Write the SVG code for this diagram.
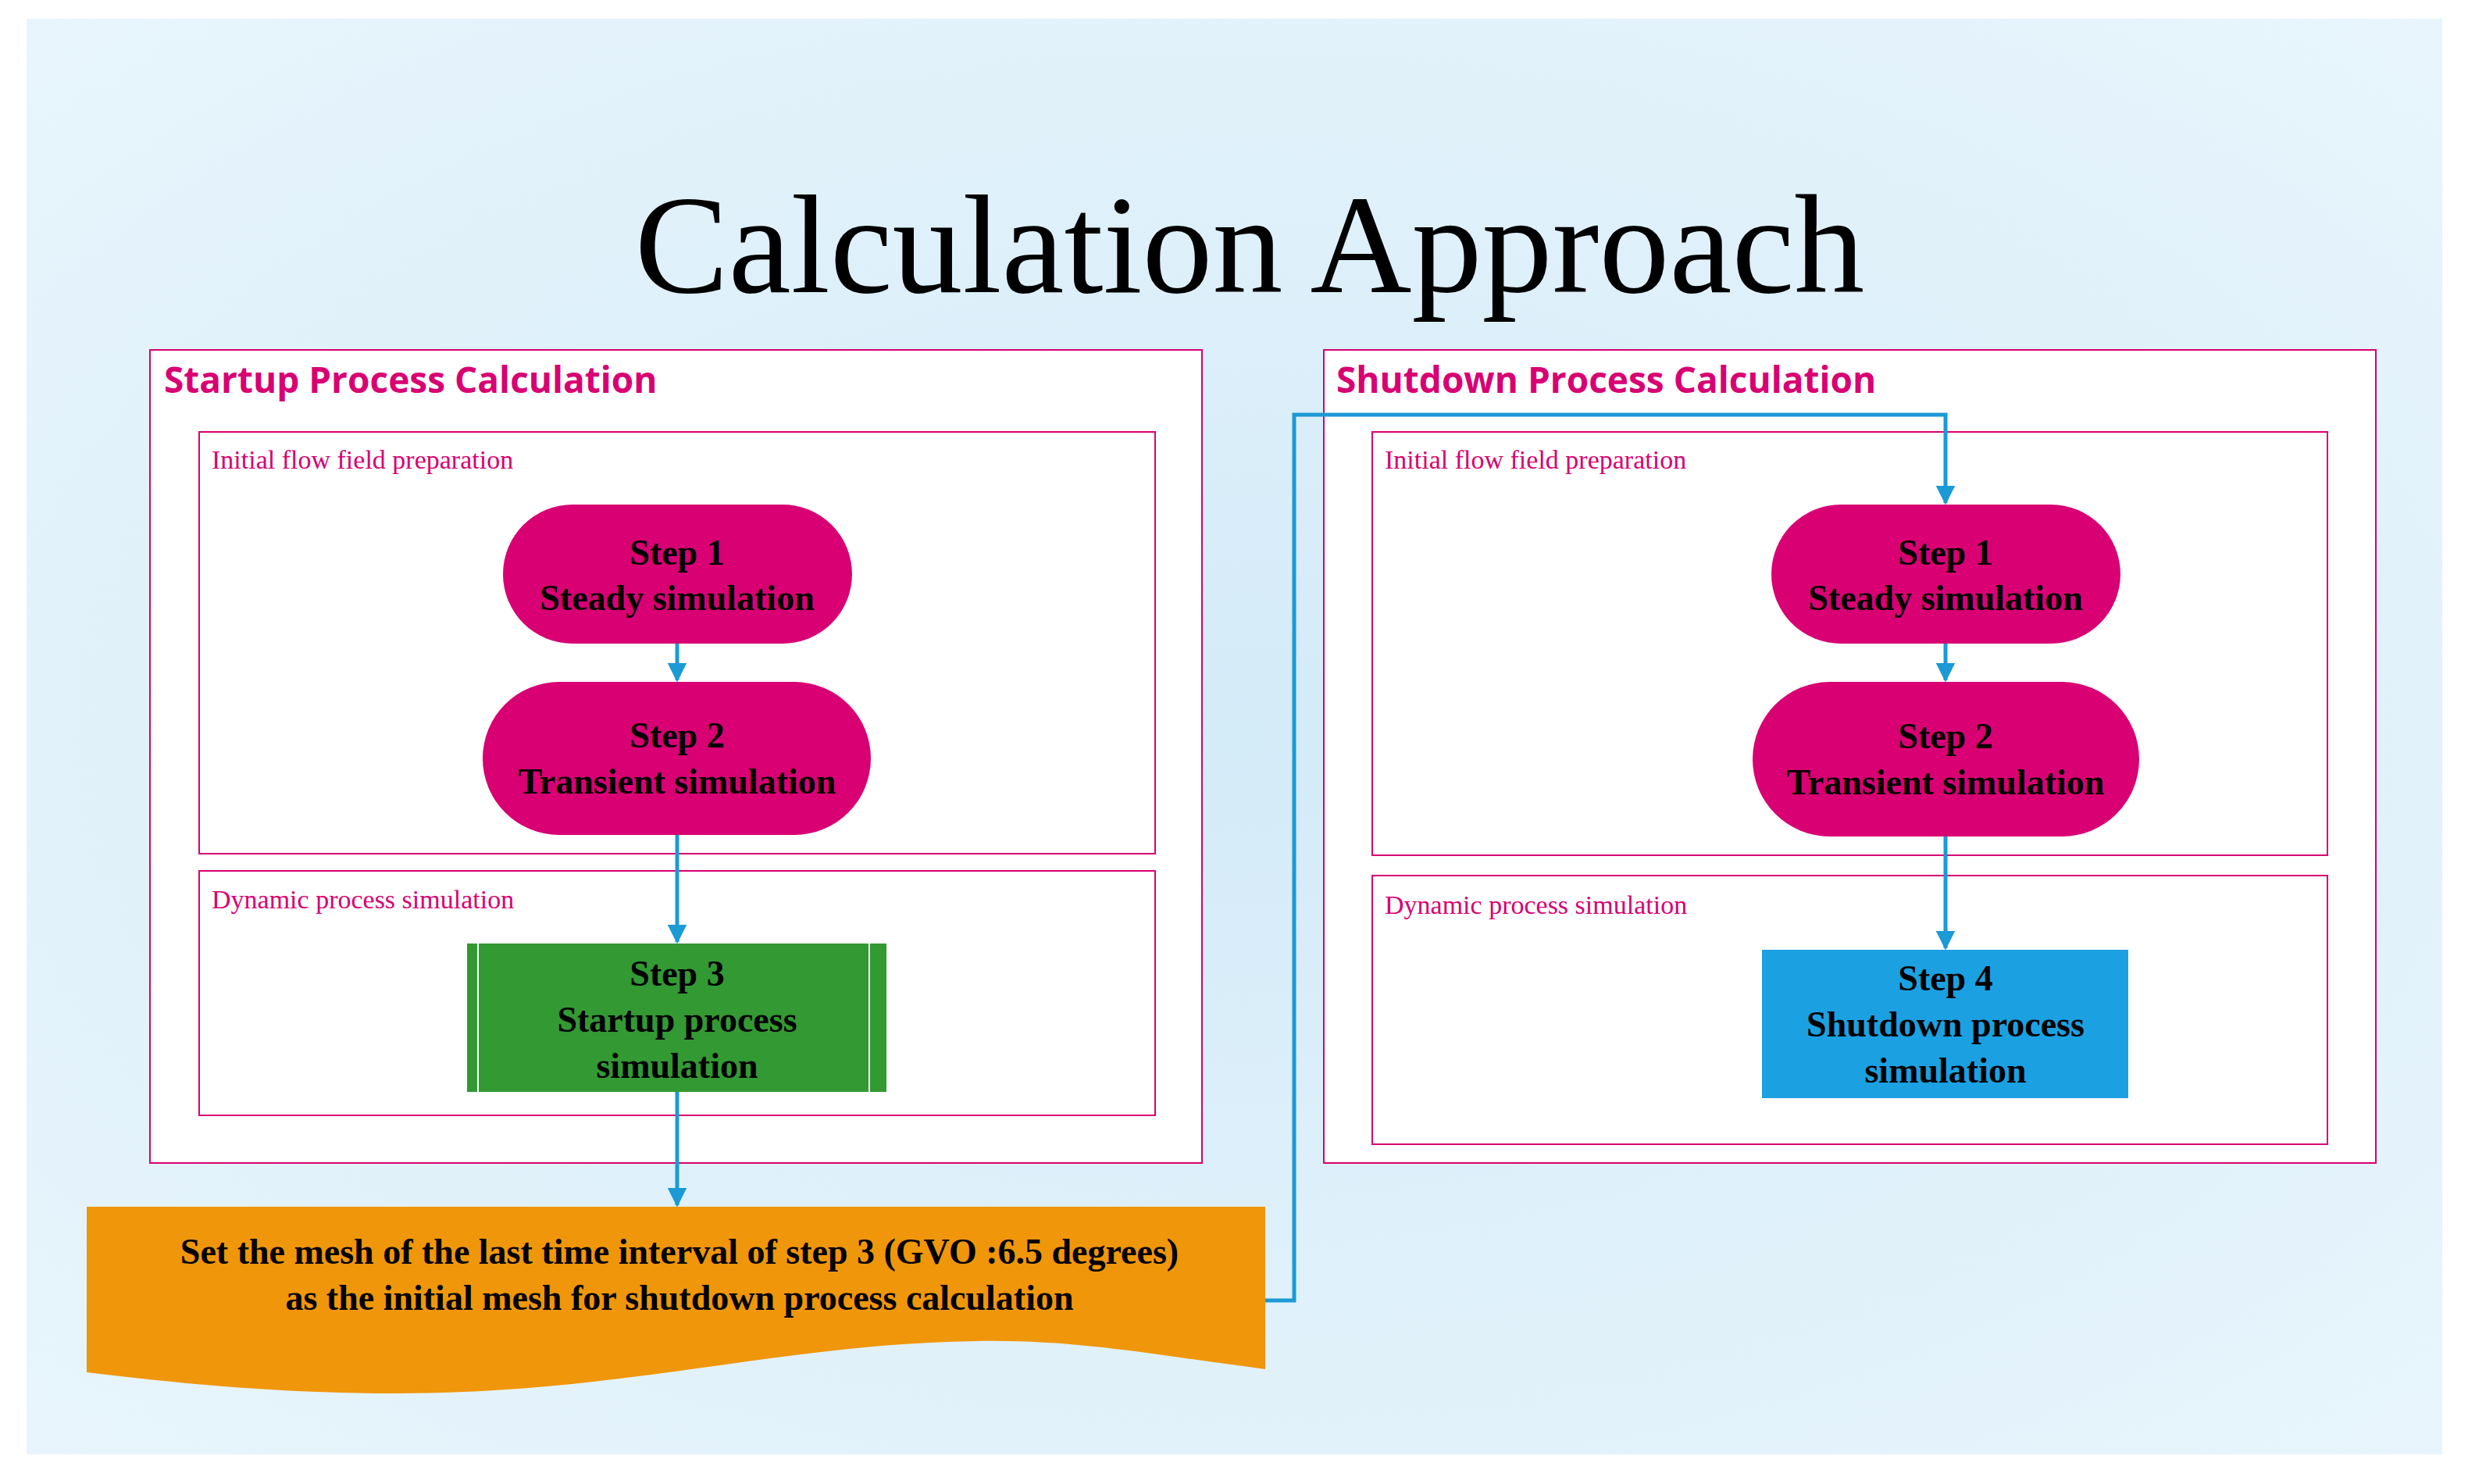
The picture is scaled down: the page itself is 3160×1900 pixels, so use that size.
<svg xmlns="http://www.w3.org/2000/svg" width="3160" height="1900" viewBox="0 0 3160 1900">
<defs>
<radialGradient id="bg" cx="50%" cy="50%" r="70%"><stop offset="0" stop-color="#D4EBF8"/><stop offset="1" stop-color="#E8F5FC"/></radialGradient>
<marker id="ah" viewBox="0 0 10 10" refX="9" refY="5" markerWidth="5" markerHeight="5" orient="auto" markerUnits="strokeWidth"><path d="M0,0 L10,5 L0,10 z" fill="#1B9AD6"/></marker>
</defs>
<style>
.box{fill:#fff;stroke:#D80073;stroke-width:2}
.big{font-family:"Open Sans","Liberation Sans",sans-serif;font-weight:bold;font-size:46px;fill:#D80073}
.lab{font-family:"Liberation Serif",serif;font-size:34px;fill:#D80073}
.nt{font-family:"Liberation Serif",serif;font-weight:bold;font-size:46px;fill:#000;text-anchor:middle}
.con{fill:none;stroke:#1B9AD6;stroke-width:5;marker-end:url(#ah)}
</style>
<rect x="34" y="24" width="3093" height="1838" fill="url(#bg)"/>
<text x="1600" y="374" font-family="Liberation Serif,serif" font-size="180" text-anchor="middle" fill="#000">Calculation Approach</text>
<g id="startup">
<rect class="box" x="192" y="448" width="1347" height="1041"/>
<text class="big" x="210" y="503">Startup Process Calculation</text>
</g>
<g id="startup-init"><rect class="box" x="255" y="553" width="1224" height="540"/><text class="lab" x="271" y="600">Initial flow field preparation</text></g>
<g id="startup-dyn"><rect class="box" x="255" y="1115" width="1224" height="313"/><text class="lab" x="271" y="1163">Dynamic process simulation</text></g>
<g id="shutdown">
<rect class="box" x="1695" y="448" width="1347" height="1041"/>
<text class="big" x="1711" y="503">Shutdown Process Calculation</text>
</g>
<g id="shutdown-init"><rect class="box" x="1757" y="553" width="1223" height="542"/><text class="lab" x="1773" y="600">Initial flow field preparation</text></g>
<g id="shutdown-dyn"><rect class="box" x="1757" y="1121" width="1223" height="344"/><text class="lab" x="1773" y="1170">Dynamic process simulation</text></g>
<g id="s1a"><rect x="644" y="646" width="447" height="178" rx="89" fill="#D80073"/><text class="nt" x="867" y="723">Step 1</text><text class="nt" x="867" y="781">Steady simulation</text></g>
<g id="s2a"><rect x="618" y="873" width="497" height="196" rx="98" fill="#D80073"/><text class="nt" x="867" y="957">Step 2</text><text class="nt" x="867" y="1016">Transient simulation</text></g>
<g id="s3"><rect x="598" y="1208" width="537" height="190" fill="#339933"/><line x1="612" y1="1208" x2="612" y2="1398" stroke="#fff" stroke-width="2"/><line x1="1113" y1="1208" x2="1113" y2="1398" stroke="#fff" stroke-width="2"/><text class="nt" x="867" y="1262">Step 3</text><text class="nt" x="867" y="1321">Startup process</text><text class="nt" x="867" y="1380">simulation</text></g>
<g id="mesh"><path d="M111,1545 H1620 V1753 C1480,1735 1380,1715 1252,1717 C1000,1720 800,1784 505,1784 C350,1784 220,1770 111,1757 Z" fill="#F0960A"/><text class="nt" x="870" y="1618">Set the mesh of the last time interval of step 3 (GVO :6.5 degrees)</text><text class="nt" x="870" y="1677">as the initial mesh for shutdown process calculation</text></g>
<g id="s1b"><rect x="2268" y="646" width="447" height="178" rx="89" fill="#D80073"/><text class="nt" x="2491" y="723">Step 1</text><text class="nt" x="2491" y="781">Steady simulation</text></g>
<g id="s2b"><rect x="2244" y="873" width="495" height="198" rx="99" fill="#D80073"/><text class="nt" x="2491" y="958">Step 2</text><text class="nt" x="2491" y="1017">Transient simulation</text></g>
<g id="s4"><rect x="2256" y="1216" width="469" height="190" fill="#1BA1E2"/><text class="nt" x="2491" y="1268">Step 4</text><text class="nt" x="2491" y="1327">Shutdown process</text><text class="nt" x="2491" y="1386">simulation</text></g>
<g id="connectors">
<path class="con" d="M867,824 V871"/>
<path class="con" d="M867,1069 V1206"/>
<path class="con" d="M867,1398 V1543"/>
<path class="con" d="M1620,1665 H1657 V531 H2491 V644"/>
<path class="con" d="M2491,824 V871"/>
<path class="con" d="M2491,1071 V1214"/>
</g>
</svg>
